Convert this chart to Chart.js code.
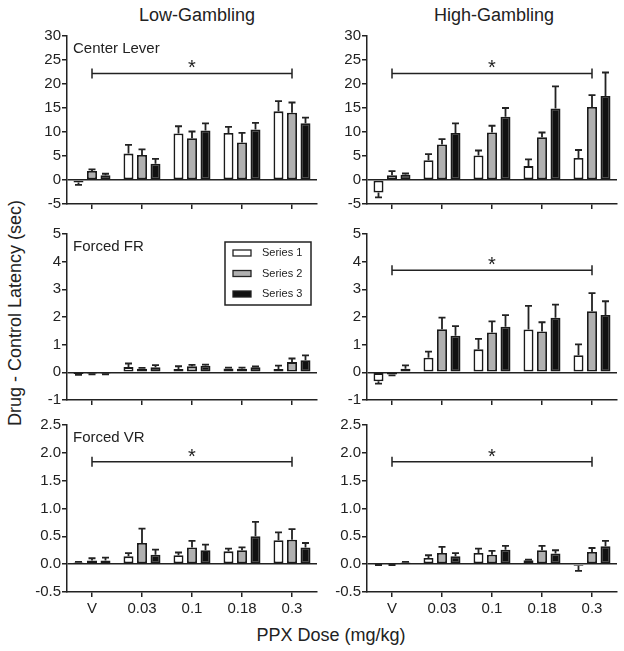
<!DOCTYPE html>
<html>
<head>
    <title>PPX latency panels</title>
    <script src="https://cdn.jsdelivr.net/npm/chart.js"></script>
    <style>
        body { margin: 0; background: #fff; font-family: Arial, "Liberation Sans", sans-serif; }
        #wrap { position: relative; width: 624px; height: 651px; overflow: hidden; }
        #wrap canvas { position: absolute; }
        .lbl { position: absolute; color: #222; white-space: nowrap; transform: translate(-50%, -50%); }
        .big { font-size: 18px; }
        .ytitle { transform: translate(-50%, -50%) rotate(-90deg); }
    </style>
</head>
<body>
<div id="wrap">
    <div class="lbl big" style="left:197px;top:15px">Low-Gambling</div>
    <div class="lbl big" style="left:494px;top:15px">High-Gambling</div>
    <div class="lbl big ytitle" style="left:15px;top:313px">Drug - Control Latency (sec)</div>
    <div class="lbl big" style="left:331px;top:635px">PPX Dose (mg/kg)</div>

    <canvas id="lowCenter" width="320" height="194" style="left:0;top:24px"></canvas>
    <canvas id="highCenter" width="324" height="194" style="left:300px;top:24px"></canvas>
    <canvas id="lowFR" width="320" height="192" style="left:0;top:222px"></canvas>
    <canvas id="highFR" width="324" height="192" style="left:300px;top:222px"></canvas>
    <canvas id="lowVR" width="320" height="219" style="left:0;top:413px"></canvas>
    <canvas id="highVR" width="324" height="219" style="left:300px;top:413px"></canvas>
</div>

<script>
    // doses on the x axis, one group of three bars each
    const categories = ['V', '0.03', '0.1', '0.18', '0.3'];
    const seriesNames = ['Series 1', 'Series 2', 'Series 3'];
    const seriesColors = ['#ffffff', '#b0b0b0', '#111111'];

    // Center Lever (sec), rows = series 1..3
    const lowCenterMeans = [
        [-0.5, 5.5, 9.7, 9.8, 14.3],
        [1.9, 5.2, 8.7, 7.8, 14.0],
        [1.0, 3.4, 10.3, 10.5, 11.8]
    ];
    const lowCenterErr = [
        [0.5, 1.8, 1.5, 1.25, 2.15],
        [0.3, 1.2, 1.4, 2.0, 2.15],
        [0.3, 1.0, 1.5, 1.4, 1.2]
    ];
    const highCenterMeans = [
        [-2.6, 4.1, 5.1, 2.9, 4.6],
        [1.0, 7.4, 9.9, 8.9, 15.2],
        [1.1, 9.8, 13.2, 14.9, 17.5]
    ];
    const highCenterErr = [
        [1.0, 1.3, 1.05, 1.4, 1.65],
        [0.85, 1.1, 1.4, 1.0, 2.5],
        [0.25, 2.0, 1.8, 4.6, 4.9]
    ];

    // Forced FR
    const lowFRMeans = [
        [-0.06, 0.19, 0.12, 0.14, 0.12],
        [-0.04, 0.13, 0.22, 0.13, 0.37],
        [-0.04, 0.18, 0.24, 0.18, 0.44]
    ];
    const lowFRErr = [
        [0.03, 0.13, 0.1, 0.03, 0.12],
        [0.03, 0.03, 0.05, 0.04, 0.13],
        [0.03, 0.08, 0.04, 0.03, 0.17]
    ];
    const highFRMeans = [
        [-0.32, 0.53, 0.83, 1.55, 0.62],
        [-0.08, 1.56, 1.44, 1.48, 2.21],
        [0.13, 1.32, 1.65, 1.97, 2.07]
    ];
    const highFRErr = [
        [0.09, 0.22, 0.38, 0.85, 0.39],
        [0.03, 0.42, 0.4, 0.33, 0.65],
        [0.12, 0.35, 0.42, 0.48, 0.5]
    ];

    // Forced VR
    const lowVRMeans = [
        [0.03, 0.14, 0.16, 0.23, 0.43],
        [0.066, 0.38, 0.3, 0.25, 0.44],
        [0.066, 0.17, 0.25, 0.5, 0.3]
    ];
    const lowVRErr = [
        [0.01, 0.06, 0.05, 0.05, 0.14],
        [0.04, 0.26, 0.12, 0.05, 0.19],
        [0.05, 0.09, 0.1, 0.26, 0.08]
    ];
    const highVRMeans = [
        [-0.01, 0.11, 0.2, 0.07, -0.03],
        [-0.01, 0.2, 0.17, 0.25, 0.22],
        [0.03, 0.14, 0.26, 0.19, 0.32]
    ];
    const highVRErr = [
        [0.005, 0.05, 0.08, 0.01, 0.09],
        [0.005, 0.11, 0.07, 0.08, 0.07],
        [0.01, 0.06, 0.07, 0.06, 0.1]
    ];

    const FONT = 'Arial, "Liberation Sans", sans-serif';
    const INK = '#222';

    // error bars: one-sided, away from zero
    const errorBars = {
        id: 'errorBars',
        afterDatasetsDraw(chart) {
            const ctx = chart.ctx, ys = chart.scales.y;
            ctx.save();
            ctx.strokeStyle = INK;
            ctx.lineWidth = 1.8;
            chart.data.datasets.forEach((ds, di) => {
                chart.getDatasetMeta(di).data.forEach((bar, i) => {
                    const v = ds.data[i], e = ds.errors[i];
                    const end = ys.getPixelForValue(v < 0 ? v - e : v + e);
                    ctx.beginPath();
                    ctx.moveTo(bar.x, bar.y);
                    ctx.lineTo(bar.x, end);
                    ctx.moveTo(bar.x - 3.5, end);
                    ctx.lineTo(bar.x + 3.5, end);
                    ctx.stroke();
                });
            });
            ctx.restore();
        }
    };

    // significance bracket V..0.3 with a star, panel label, legend box
    const panelExtras = {
        id: 'panelExtras',
        afterDraw(chart, args, opts) {
            const ctx = chart.ctx, a = chart.chartArea;
            const xs = chart.scales.x, ys = chart.scales.y;
            ctx.save();
            if (opts.label) {
                ctx.fillStyle = INK;
                ctx.font = '15px ' + FONT;
                ctx.textBaseline = 'middle';
                ctx.textAlign = 'left';
                ctx.fillText(opts.label, a.left + 6, a.top + 13);
            }
            if (opts.bracket != null) {
                const y = ys.getPixelForValue(opts.bracket);
                const x0 = xs.getPixelForValue(0), x1 = xs.getPixelForValue(categories.length - 1);
                ctx.strokeStyle = INK;
                ctx.lineWidth = 1.5;
                ctx.beginPath();
                ctx.moveTo(x0, y); ctx.lineTo(x1, y);
                ctx.moveTo(x0, y - 5); ctx.lineTo(x0, y + 5);
                ctx.moveTo(x1, y - 5); ctx.lineTo(x1, y + 5);
                ctx.stroke();
                ctx.fillStyle = INK;
                ctx.font = '20px ' + FONT;
                ctx.textAlign = 'center';
                ctx.textBaseline = 'alphabetic';
                ctx.fillText('*', xs.getPixelForValue(2), y + 1);
            }
            if (opts.legend) {
                const bx = a.right - 92, by = a.top + 8, bw = 86, bh = 63;
                ctx.strokeStyle = INK;
                ctx.lineWidth = 1.5;
                ctx.strokeRect(bx, by, bw, bh);
                ctx.font = '11px ' + FONT;
                ctx.textAlign = 'left';
                ctx.textBaseline = 'middle';
                chart.data.datasets.forEach((ds, i) => {
                    const cy = by + 11 + i * 20.5;
                    ctx.fillStyle = ds.backgroundColor;
                    ctx.fillRect(bx + 8, cy - 3, 18, 6);
                    ctx.lineWidth = 1.3;
                    ctx.strokeRect(bx + 8, cy - 3, 18, 6);
                    ctx.fillStyle = INK;
                    ctx.fillText(ds.label, bx + 37, cy);
                });
            }
            ctx.restore();
        }
    };

    function makePanel(id, means, errs, yMin, yMax, step, extras, showX) {
        const ctx = document.getElementById(id).getContext('2d');
        return new Chart(ctx, {
            type: 'bar',
            data: {
                labels: categories,
                datasets: seriesNames.map((name, s) => ({
                    label: name,
                    data: means[s],
                    errors: errs[s],
                    backgroundColor: seriesColors[s],
                    borderColor: '#1a1a1a',
                    borderWidth: 1.8,
                    borderSkipped: false,
                    categoryPercentage: 0.81,
                    barPercentage: 0.74
                }))
            },
            options: {
                responsive: false,
                animation: false,
                layout: { padding: { top: 12, bottom: 6, left: 0, right: id.startsWith('low') ? 3 : 7 } },
                plugins: {
                    legend: { display: false },
                    tooltip: { enabled: false },
                    panelExtras: extras
                },
                scales: {
                    x: {
                        grid: { offset: false, drawOnChartArea: false, tickLength: 5, color: INK, lineWidth: 1.5 },
                        border: { color: INK, width: 1.5 },
                        ticks: { display: showX, color: INK, font: { size: 15, family: FONT }, padding: 3, maxRotation: 0 },
                        afterFit: s => { s.height = showX ? 34 : 8; }
                    },
                    y: {
                        min: yMin, max: yMax,
                        grid: {
                            drawOnChartArea: true,
                            color: c => (c.tick && c.tick.value === 0) ? INK : 'rgba(0,0,0,0)',
                            tickColor: INK, tickLength: 5, lineWidth: 1.5
                        },
                        border: { color: INK, width: 1.5 },
                        ticks: {
                            stepSize: step, color: INK, padding: 1,
                            font: { size: 15, family: FONT },
                            callback: v => step < 1 ? Number(v).toFixed(1) : String(v)
                        },
                        afterFit: s => { s.width = 67; }
                    }
                }
            },
            plugins: [errorBars, panelExtras]
        });
    }

    makePanel('lowCenter', lowCenterMeans, lowCenterErr, -5, 30, 5, { label: 'Center Lever', bracket: 22.2 }, false);
    makePanel('highCenter', highCenterMeans, highCenterErr, -5, 30, 5, { bracket: 22.2 }, false);
    makePanel('lowFR', lowFRMeans, lowFRErr, -1, 5, 1, { label: 'Forced FR', legend: true }, false);
    makePanel('highFR', highFRMeans, highFRErr, -1, 5, 1, { bracket: 3.69 }, false);
    makePanel('lowVR', lowVRMeans, lowVRErr, -0.5, 2.5, 0.5, { label: 'Forced VR', bracket: 1.84 }, true);
    makePanel('highVR', highVRMeans, highVRErr, -0.5, 2.5, 0.5, { bracket: 1.84 }, true);
</script>
</body>
</html>
